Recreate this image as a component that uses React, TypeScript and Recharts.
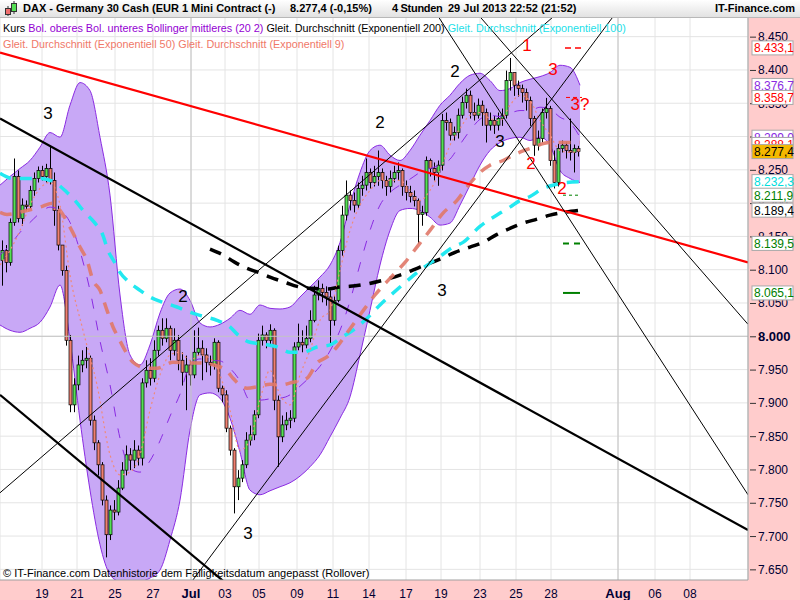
import React from 'react';
import { ComposedChart, Bar, Line, Area, Scatter, XAxis, YAxis, CartesianGrid, ReferenceLine } from 'recharts';

// DAX mini contract, 4h candles from mid June to 29 Jul 2013 (one x unit = one candle)
const firstOpen = 8114;
const closes = [
  8129, 8111, 8171, 8240, 8177, 8197, 8195, 8219, 8237, 8249,
  8240, 8252, 8234, 8189, 8137, 8099, 7994, 7897, 7927, 7957,
  7964, 7967, 7874, 7840, 7807, 7754, 7702, 7739, 7736, 7772,
  7799, 7822, 7814, 7829, 7817, 7930, 7949, 7937, 7979, 8009,
  7997, 8012, 7979, 7994, 7964, 7946, 7957, 7942, 7976, 7982,
  7972, 7961, 7957, 7991, 7922, 7912, 7862, 7829, 7774, 7787,
  7807, 7844, 7852, 7882, 7994, 8002, 7994, 8009, 7904, 7849,
  7867, 7874, 7877, 7984, 7991, 7987, 7997, 8024, 8062, 8072,
  8066, 8059, 8024, 8054, 8129, 8182, 8212, 8204, 8197, 8222,
  8227, 8246, 8231, 8240, 8246, 8234, 8225, 8237, 8246, 8249,
  8225, 8216, 8210, 8204, 8183, 8186, 8264, 8252, 8246, 8257,
  8324, 8321, 8302, 8306, 8332, 8351, 8362, 8336, 8332, 8347,
  8336, 8317, 8324, 8317, 8327, 8332, 8384, 8396, 8377, 8372,
  8366, 8354, 8327, 8287, 8297, 8336, 8342, 8264, 8231, 8282,
  8287, 8279, 8276, 8282, 8277.4,
];
const highs = [
  8144, 8137, 8177, 8267, 8249, 8207, 8204, 8226, 8246, 8255,
  8256, 8259, 8286, 8246, 8196, 8137, 8106, 8002, 7937, 7971,
  7979, 7984, 7971, 7881, 7844, 7811, 7761, 7746, 7754, 7784,
  7811, 7836, 7832, 7844, 7836, 7937, 7964, 7967, 7994, 8016,
  8027, 8027, 8016, 8012, 8002, 7976, 7971, 7964, 8009, 8013,
  7994, 7982, 7971, 7997, 7994, 7926, 7919, 7866, 7832, 7799,
  7814, 7856, 7866, 7889, 8004, 8016, 8006, 8018, 8012, 7911,
  7881, 7886, 7889, 7991, 8019, 8009, 8016, 8039, 8076, 8084,
  8079, 8075, 8069, 8061, 8136, 8196, 8234, 8219, 8216, 8231,
  8241, 8267, 8252, 8256, 8279, 8252, 8241, 8249, 8256, 8261,
  8252, 8234, 8226, 8219, 8207, 8196, 8270, 8267, 8261, 8264,
  8334, 8336, 8327, 8315, 8342, 8360, 8372, 8369, 8351, 8357,
  8354, 8342, 8336, 8331, 8336, 8342, 8399, 8418, 8396, 8384,
  8378, 8372, 8360, 8331, 8309, 8342, 8358, 8346, 8279, 8289,
  8294, 8291, 8327, 8288, 8286,
];
const lows = [
  8076, 8096, 8106, 8166, 8171, 8166, 8189, 8192, 8211, 8231,
  8234, 8231, 8228, 8166, 8129, 8091, 7986, 7886, 7886, 7919,
  7946, 7952, 7866, 7829, 7791, 7746, 7668, 7694, 7724, 7731,
  7769, 7791, 7799, 7802, 7806, 7806, 7923, 7926, 7931, 7971,
  7986, 7991, 7964, 7971, 7949, 7926, 7889, 7926, 7937, 7971,
  7934, 7946, 7941, 7950, 7916, 7901, 7856, 7821, 7734, 7754,
  7781, 7802, 7836, 7844, 7877, 7986, 7982, 7986, 7889, 7804,
  7841, 7859, 7862, 7871, 7979, 7976, 7982, 7991, 8021, 8054,
  8051, 8046, 7989, 8016, 8051, 8121, 8174, 8189, 8186, 8192,
  8211, 8219, 8222, 8225, 8226, 8222, 8211, 8216, 8231, 8234,
  8211, 8204, 8201, 8195, 8139, 8166, 8181, 8240, 8234, 8226,
  8249, 8309, 8294, 8294, 8297, 8327, 8342, 8327, 8324, 8327,
  8316, 8291, 8309, 8304, 8309, 8316, 8327, 8369, 8361, 8360,
  8351, 8339, 8316, 8271, 8279, 8291, 8327, 8256, 8222, 8225,
  8276, 8267, 8264, 8246, 8270,
];

const dateTicks = [10, 18.75, 28.25, 37.75, 47.25, 55.75, 64.25, 73.75, 82.75, 91.75, 101, 109.75, 119.5, 128.5, 137.25, 154, 163.25, 172];
const dateLabels = ['19', '21', '25', '27', 'Jul', '03', '05', '09', '11', '14', '17', '19', '23', '25', '28', 'Aug', '06', '08'];
const priceTicks = [7650, 7700, 7750, 7800, 7850, 7900, 7950, 8000, 8050, 8100, 8150, 8200, 8250, 8300, 8350, 8400, 8450];

// Bollinger (20 2)
const bandX = [
  -0.5, 2, 4.5, 7, 9.5, 12, 14.5, 17, 19.5, 22, 24.5, 27, 29.5, 32, 34.5, 37, 39.5, 42, 44.5, 47,
  49.5, 52, 54.5, 57, 59.5, 62, 64.5, 67, 69.5, 72, 74.5, 77, 79.5, 82, 84.5, 87, 89.5, 92, 94.5, 97,
  99.5, 102, 104.5, 107, 109.5, 112, 114.5, 117, 119.5, 122, 124.5, 127, 129.5, 132, 134.5, 137, 139.5, 142, 144.5,
];
const bandUpper = [
  8227, 8240, 8252, 8264, 8284, 8306, 8299, 8347, 8381, 8369, 8299, 8212, 8062, 7972, 7957, 7987, 8035, 8065, 8071, 8054,
  8020, 8014, 8018, 8027, 8039, 8033, 8047, 8042, 8041, 8044, 8059, 8074, 8089, 8107, 8141, 8197, 8246, 8279, 8287, 8272,
  8264, 8279, 8302, 8324, 8347, 8362, 8380, 8392, 8395, 8384, 8369, 8372, 8381, 8386, 8390, 8396, 8407, 8404, 8377,
];
const bandLower = [
  8017, 8009, 8006, 8012, 8021, 8044, 8077, 7994, 7874, 7769, 7687, 7642, 7631, 7628, 7631, 7637, 7649, 7694, 7754, 7859,
  7912, 7915, 7907, 7877, 7826, 7769, 7762, 7768, 7774, 7780, 7790, 7804, 7822, 7849, 7877, 7909, 7972, 8039, 8107, 8159,
  8189, 8192, 8189, 8179, 8167, 8170, 8197, 8227, 8257, 8279, 8291, 8297, 8299, 8294, 8299, 8287, 8249, 8237, 8231,
];
const bandMid = [
  8122, 8137, 8156, 8171, 8185, 8194, 8189, 8171, 8128, 8069, 7993, 7927, 7847, 7802, 7796, 7813, 7843, 7880, 7913, 7957,
  7966, 7964, 7963, 7952, 7933, 7904, 7904, 7906, 7907, 7912, 7925, 7939, 7955, 7978, 8009, 8053, 8108, 8159, 8197, 8216,
  8227, 8236, 8246, 8252, 8257, 8266, 8288, 8309, 8326, 8332, 8330, 8335, 8339, 8339, 8344, 8341, 8329, 8321, 8299,
];

const ema9X = [-0.5, 2, 4.5, 7, 9.5, 12, 14.5, 17, 20.25, 23.75, 27, 29.5, 32, 34.5, 37, 39.5, 42, 44.5, 47, 49.5, 52, 54.5, 57, 59.5, 62, 64.5, 67, 69.5, 72, 74.5, 77, 79.5, 82, 84.5, 87, 89.5, 92, 94.5, 97, 99.5, 102, 104.5, 107, 109.5, 112, 114.5, 117, 119.5, 122, 124.5, 127, 129.5, 132, 134.5, 137, 139.5, 142, 144.5];
const ema9 = [8107, 8129, 8159, 8197, 8222, 8231, 8197, 8092, 8009, 7927, 7822, 7792, 7796, 7822, 7889, 7942, 7972, 7976, 7964, 7972, 7967, 7942, 7889, 7829, 7844, 7904, 7949, 7912, 7897, 7942, 7979, 8024, 8039, 8099, 8159, 8197, 8219, 8234, 8234, 8234, 8219, 8204, 8219, 8249, 8287, 8312, 8332, 8336, 8327, 8324, 8347, 8362, 8354, 8324, 8302, 8279, 8276, 8279];

const ema50X = [-0.5, 1.25, 6.25, 9.5, 12.75, 14.5, 17, 19.5, 21.25, 22.75, 24.5, 26.25, 27.75, 29, 30.75, 32.75, 36.25, 38.75, 42.75, 46.25, 48.75, 52.75, 56.25, 57.75, 61.25, 63.75, 67, 69.5, 72.75, 76.25, 78.75, 81.25, 83.75, 86.25, 89.5, 93.25, 97, 100.75, 104.5, 107, 110.25, 113.75, 116.25, 119.5, 122, 125.25, 127.75, 132, 137, 140.75, 144.5];
const ema50 = [8186, 8183, 8189, 8194, 8200, 8189, 8164, 8134, 8114, 8084, 8069, 8039, 8014, 7999, 7979, 7961, 7952, 7952, 7961, 7960, 7960, 7957, 7948, 7937, 7922, 7924, 7928, 7927, 7931, 7937, 7960, 7969, 7984, 8005, 8032, 8062, 8087, 8111, 8140, 8159, 8185, 8204, 8224, 8246, 8257, 8264, 8272, 8282, 8291, 8291, 8291];

const ema100X = [-0.5, 2.75, 6.5, 9.5, 13.25, 16.25, 18.25, 20.25, 23.25, 25, 26.5, 28.25, 29.5, 31.25, 34.5, 37, 40.25, 43.75, 47, 50.25, 53.75, 57, 59, 62, 65.75, 68.75, 72, 75.25, 78.75, 82, 85, 87, 90.75, 94.5, 99.5, 104.5, 109.5, 112.75, 115.25, 119.5, 124.5, 127, 129.5, 132, 135.25, 137.75, 141.25, 144.5];
const ema100 = [8245, 8237, 8237, 8237, 8231, 8216, 8204, 8189, 8170, 8155, 8129, 8110, 8096, 8084, 8069, 8059, 8051, 8044, 8036, 8030, 8024, 8014, 8002, 7991, 7988, 7984, 7976, 7976, 7984, 7987, 7999, 8006, 8024, 8047, 8074, 8099, 8120, 8134, 8141, 8165, 8185, 8194, 8204, 8210, 8222, 8227, 8231, 8232];

const ema200X = [52, 55, 58.25, 61.25, 64.5, 67, 71.25, 73.75, 77, 81.25, 84.5, 87, 90.75, 94.5, 99.5, 104.5, 109.5, 113.25, 117, 120.25, 123.75, 127, 130.25, 133.75, 137, 140.25, 144];
const ema200 = [8131, 8123, 8111, 8102, 8095, 8089, 8080, 8075, 8072, 8071, 8074, 8075, 8078, 8083, 8092, 8104, 8116, 8126, 8134, 8141, 8153, 8162, 8170, 8176, 8182, 8186, 8189];

// hand drawn trend lines: [x1, price1, x2, price2]
const trendLines = [
  { p: [-0.5, 8426, 186.5, 8111], color: '#ff0000', w: 2.2 },
  { p: [-0.5, 8327, 186.5, 7709], color: '#000000', w: 2.2 },
  { p: [-0.5, 7912, 61, 7604], color: '#000000', w: 2.2 },
  { p: [-0.5, 7765, 142.5, 8504], color: '#000000', w: 1 },
  { p: [44, 7604, 155.75, 8504], color: '#000000', w: 1 },
  { p: [116, 8504, 186.5, 8018], color: '#000000', w: 1 },
  { p: [106.5, 8504, 186.5, 7762], color: '#000000', w: 1 },
];

// target marks at the right end of the data
const targets = [
  { x1: 140.75, x2: 145, v: 8433.1, color: '#ff0000', dash: '6 4', w: 1.5 },
  { x1: 141, x2: 145, v: 8358.7, color: '#ff0000', dash: '4 3', w: 1 },
  { x1: 140.25, x2: 144.5, v: 8211.9, color: '#008000', dash: '3 3', w: 1 },
  { x1: 140.25, x2: 144.5, v: 8139.5, color: '#008000', dash: '6 5', w: 2 },
  { x1: 140.25, x2: 144.5, v: 8065.1, color: '#008000', dash: '', w: 2 },
];

const waves = [
  { i: 11.5, v: 8335, text: '3', color: '#000' },
  { i: 45.25, v: 8060, text: '2', color: '#000' },
  { i: 61.5, v: 7704, text: '3', color: '#000' },
  { i: 94.5, v: 8321, text: '2', color: '#000' },
  { i: 110, v: 8069, text: '3', color: '#000' },
  { i: 113.25, v: 8398, text: '2', color: '#000' },
  { i: 124.5, v: 8293, text: '3', color: '#000' },
  { i: 131.25, v: 8437, text: '1', color: '#ff0000' },
  { i: 137.75, v: 8401, text: '3', color: '#ff0000' },
  { i: 144.5, v: 8348, text: '3?', color: '#ff0000' },
  { i: 132.25, v: 8260, text: '2', color: '#ff0000' },
  { i: 140, v: 8222, text: '2', color: '#ff0000' },
];

const lastValues = [
  { v: 8433.1, text: '8.433,1', color: '#ff0000', bg: '#fff' },
  { v: 8376.7, text: '8.376,7', color: '#8a2be2', bg: '#fff' },
  { v: 8358.7, text: '8.358,7', color: '#ff0000', bg: '#fff' },
  { v: 8299.0, text: '8.299,0', color: '#8a2be2', bg: '#fff' },
  { v: 8288.1, text: '8.288,1', color: '#ff0000', bg: '#fff' },
  { v: 8277.4, text: '8.277,4', color: '#000', bg: '#f5b800' },
  { v: 8232.3, text: '8.232,3', color: '#00dddd', bg: '#fff' },
  { v: 8211.9, text: '8.211,9', color: '#008000', bg: '#fff' },
  { v: 8189.4, text: '8.189,4', color: '#000', bg: '#fff' },
  { v: 8139.5, text: '8.139,5', color: '#008000', bg: '#fff' },
  { v: 8065.1, text: '8.065,1', color: '#008000', bg: '#fff' },
];

const candles = closes.map((c, i) => ({ i, open: i === 0 ? firstOpen : closes[i - 1], close: c, high: highs[i], low: lows[i] }));
const band = bandX.map((x, k) => ({ i: x, range: [bandLower[k], bandUpper[k]], mid: bandMid[k] }));
const series = (xs: number[], vs: number[]) => xs.map((x, k) => ({ i: x, v: vs[k] }));
// price ticks first, last-value boxes after them so the boxes are painted on top
const axisTicks = [...priceTicks, ...lastValues.map((b) => b.v)];

const FONT = '"Liberation Sans", Arial, sans-serif';

const Candle = (props: any) => {
  const { x, width, payload } = props;
  let { y, height } = props;
  if (height < 0) { y += height; height = -height; }
  const { open, close, high, low } = payload;
  const k = height / (high - low);
  const yo = y + (high - open) * k;
  const yc = y + (high - close) * k;
  const cx = Math.round(x + width / 2) + 0.5;
  const top = Math.min(yo, yc);
  return (
    <g>
      <line x1={cx} x2={cx} y1={y} y2={y + height} stroke="#000" strokeWidth={1} />
      <rect x={cx - 1.5} y={top} width={3} height={Math.max(1, Math.abs(yc - yo))}
        fill={close >= open ? '#55e055' : '#f08070'} stroke="#000" strokeWidth={0.7} />
    </g>
  );
};

const WaveText = (props: any) => (
  <text x={props.cx} y={props.cy} textAnchor="middle" dominantBaseline="central"
    fontFamily={FONT} fontSize={17} fill={props.payload.color}>{props.payload.text}</text>
);

const DateTick = (props: any) => {
  const { x, y, payload } = props;
  const label = dateLabels[dateTicks.indexOf(payload.value)];
  const bold = label === 'Jul' || label === 'Aug';
  return (
    <text x={x} y={y + 16} textAnchor="middle" fontFamily={FONT} fontSize={bold ? 13 : 12}
      fontWeight={bold ? 'bold' : 'normal'} fill="#000033">{label}</text>
  );
};

const PriceTick = (props: any) => {
  const { x, y, payload } = props;
  const b = lastValues.find((e) => e.v === payload.value);
  if (b) {
    return (
      <g>
        <rect x={x - 6} y={y - 7} width={41} height={14} fill={b.bg} stroke="#a8a8a8" />
        <text x={x - 4} y={y + 4.5} fontFamily={FONT} fontSize={12} fill={b.color}>{b.text}</text>
      </g>
    );
  }
  const bold = payload.value === 8000;
  return (
    <g>
      <line x1={x - 8} x2={x - 2} y1={y + 0.5} y2={y + 0.5} stroke="#333" />
      <text x={x} y={y + 4.5} textAnchor="start" fontFamily={FONT} fontSize={bold ? 13 : 12}
        fontWeight={bold ? 'bold' : 'normal'} fill="#000033">{(payload.value / 1000).toFixed(3)}</text>
    </g>
  );
};

const Header = () => (
  <div style={{ position: 'absolute', left: 0, top: 0, width: 800, height: 18, boxSizing: 'border-box',
    background: 'linear-gradient(#ffffff, #e2e2e2)', borderBottom: '1px solid #b8b8b8',
    fontFamily: FONT, fontWeight: 'bold', fontSize: 11, color: '#000', whiteSpace: 'nowrap' }}>
    <svg width={18} height={18} style={{ position: 'absolute', left: 2, top: 0 }}>
      <line x1={6} x2={6} y1={6} y2={16} stroke="#333" />
      <rect x={3.5} y={8.5} width={5} height={6} fill="#f07070" stroke="#333" />
      <line x1={12} x2={12} y1={1} y2={14} stroke="#333" />
      <rect x={9.5} y={3.5} width={5} height={8} fill="#55e055" stroke="#333" />
    </svg>
    <span style={{ position: 'absolute', left: 23, top: 2 }}>DAX - Germany 30 Cash (EUR 1 Mini Contract (-)</span>
    <span style={{ position: 'absolute', left: 290, top: 2 }}>8.277,4 (-0,15%)</span>
    <span style={{ position: 'absolute', left: 392, top: 2, letterSpacing: -0.3 }}>4 Stunden</span>
    <span style={{ position: 'absolute', left: 448, top: 2 }}>29 Jul 2013 22:52 (21:52)</span>
    <span style={{ position: 'absolute', right: 5, top: 2 }}>IT-Finance.com</span>
  </div>
);

export default function App() {
  return (
    <div style={{ position: 'absolute', left: 0, top: 0, width: 800, height: 600, overflow: 'hidden', background: '#ffcccc' }}>
      <Header />
      <div style={{ position: 'absolute', left: 0, top: 18 }}>
        <ComposedChart width={800} height={582} data={candles} margin={{ top: 0, right: 0, bottom: 0, left: 0 }}>
          <CartesianGrid stroke="#e4e4e4" fill="#ffffff" horizontalValues={priceTicks} />
          <XAxis dataKey="i" type="number" domain={[-0.5, 186.5]} allowDataOverflow ticks={dateTicks} interval={0}
            height={20} tickLine={false} tickSize={0} axisLine={{ stroke: '#a0a0a0' }} tick={<DateTick />} />
          <YAxis orientation="right" type="number" domain={[7634, 8478]} allowDataOverflow ticks={axisTicks} interval={0}
            width={52} tickSize={8} tickMargin={2} tickLine={false} axisLine={{ stroke: '#a0a0a0' }} tick={<PriceTick />} />
          <ReferenceLine x={47.25} stroke="#c4c4c4" />
          <ReferenceLine x={154} stroke="#c4c4c4" />
          <ReferenceLine y={8000} stroke="#c4c4c4" />

          <Area data={band} dataKey="range" type="monotone" fill="#c8a8f6" fillOpacity={1} stroke="#8a2be2" strokeWidth={1} isAnimationActive={false} />
          <Line data={band} dataKey="mid" type="monotone" stroke="#8a2be2" strokeWidth={1} strokeDasharray="10 12" dot={false} isAnimationActive={false} />
          <Line data={series(ema200X, ema200)} dataKey="v" type="monotone" stroke="#000000" strokeWidth={3.5} strokeDasharray="12 9" dot={false} isAnimationActive={false} />
          <Line data={series(ema100X, ema100)} dataKey="v" type="monotone" stroke="#22e8f0" strokeWidth={3.5} strokeDasharray="12 9" dot={false} isAnimationActive={false} />
          <Line data={series(ema50X, ema50)} dataKey="v" type="monotone" stroke="#e07868" strokeOpacity={0.9} strokeWidth={3.5} strokeDasharray="12 9" dot={false} isAnimationActive={false} />
          <Line data={series(ema9X, ema9)} dataKey="v" type="monotone" stroke="#f08a7a" strokeWidth={1.2} strokeDasharray="2 3" dot={false} isAnimationActive={false} />

          <Bar dataKey={(d: any) => [d.low, d.high]} shape={<Candle />} barSize={3} isAnimationActive={false} />

          {trendLines.map((t, k) => (
            <ReferenceLine key={'t' + k} segment={[{ x: t.p[0], y: t.p[1] }, { x: t.p[2], y: t.p[3] }]}
              stroke={t.color} strokeWidth={t.w} ifOverflow="hidden" />
          ))}
          {targets.map((t, k) => (
            <ReferenceLine key={'g' + k} segment={[{ x: t.x1, y: t.v }, { x: t.x2, y: t.v }]}
              stroke={t.color} strokeWidth={t.w} strokeDasharray={t.dash} ifOverflow="hidden" />
          ))}
          <Scatter data={waves} dataKey="v" shape={<WaveText />} isAnimationActive={false} />
        </ComposedChart>
      </div>

      <div style={{ position: 'absolute', left: 3, top: 20, fontFamily: FONT, fontSize: 10.8, whiteSpace: 'nowrap', lineHeight: '16px' }}>
        <div>
          <span style={{ color: '#000' }}>Kurs </span>
          <span style={{ color: '#9400d3' }}>Bol. oberes Bol. unteres Bollinger mittleres (20 2) </span>
          <span style={{ color: '#000' }}>Gleit. Durchschnitt (Exponentiell 200) </span>
          <span style={{ color: '#22e0e8' }}>Gleit. Durchschnitt (Exponentiell 100)</span>
        </div>
        <div style={{ color: '#f07868' }}>Gleit. Durchschnitt (Exponentiell 50) Gleit. Durchschnitt (Exponentiell 9)</div>
      </div>
      <div style={{ position: 'absolute', left: 3, top: 567, fontFamily: FONT, fontSize: 11, whiteSpace: 'nowrap', color: '#000' }}>
        © IT-Finance.com Datenhistorie dem Fälligkeitsdatum angepasst (Rollover)
      </div>
    </div>
  );
}
